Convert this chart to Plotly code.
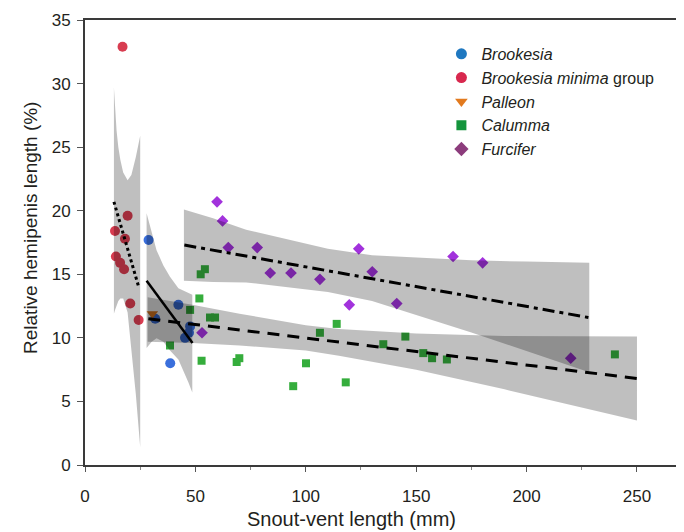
import plotly.graph_objects as go

# ---------------- data ----------------
# Brookesia
brook_x = [28.8, 42.3, 31.8, 47.6, 47.1, 45.3, 38.6]
brook_y = [17.7, 12.6, 11.5, 10.9, 10.4, 10.0, 8.0]
# Brookesia minima group
minima_x = [17.0, 19.3, 13.6, 18.1, 14.0, 15.9, 17.7, 20.5, 24.3]
minima_y = [32.9, 19.6, 18.4, 17.8, 16.4, 15.9, 15.4, 12.7, 11.4]
# Palleon
palleon_x = [30.5]
palleon_y = [11.9]
# Calumma
calumma_x = [51.8, 47.6, 56.6, 58.9, 52.4, 54.3, 38.5, 52.8, 68.7, 69.9, 94.3,
             100.1, 106.4, 114.0, 118.1, 135.1, 145.1, 153.2, 157.2, 163.9, 240.0]
calumma_y = [13.1, 12.2, 11.6, 11.6, 15.0, 15.4, 9.4, 8.2, 8.1, 8.4, 6.2,
             8.0, 10.4, 11.1, 6.5, 9.5, 10.1, 8.8, 8.4, 8.3, 8.7]
# Furcifer
furcifer_x = [59.8, 62.3, 64.9, 78.0, 83.9, 93.3, 106.4, 124.0, 119.7, 53.0,
              130.1, 141.2, 166.7, 180.1, 220.0]
furcifer_y = [20.7, 19.2, 17.1, 17.1, 15.1, 15.1, 14.6, 17.0, 12.6, 10.4,
              15.2, 12.7, 16.4, 15.9, 8.4]

# regression lines (end points)
minima_fit_x = [13.1, 24.5]
minima_fit_y = [20.7, 13.9]
brook_fit_x = [27.9, 48.7]
brook_fit_y = [14.5, 9.6]
calumma_fit_x = [28.7, 250.1]
calumma_fit_y = [11.5, 6.8]
furcifer_fit_x = [45.0, 228.0]
furcifer_fit_y = [17.3, 11.6]

# confidence bands (edges)
minima_band_x = [13.1, 13.6, 14.3, 15.1, 16.0, 17.3, 19.3, 21.0, 23.0, 25.0]
minima_band_hi = [29.7, 28.0, 26.3, 25.0, 24.0, 23.0, 22.4, 22.8, 24.2, 25.9]
minima_band_lo = [11.9, 12.2, 12.6, 12.9, 13.1, 13.1, 12.0, 9.2, 5.6, 1.4]

brook_band_x = [27.9, 30.2, 32.4, 35.5, 38.5, 42.3, 46.8, 48.6]
brook_band_hi = [19.8, 18.2, 16.9, 15.7, 14.8, 13.9, 13.5, 13.4]
brook_band_lo = [9.2, 9.7, 9.96, 9.7, 9.0, 8.3, 6.5, 5.7]

calumma_band_x = [28.4, 48.6, 70, 100, 115, 150, 190, 250]
calumma_band_hi = [13.2, 12.6, 11.9, 11.0, 10.7, 10.35, 10.15, 10.1]
calumma_band_lo = [9.7, 9.6, 9.4, 9.0, 8.6, 7.5, 5.95, 3.5]

furcifer_band_x = [44.8, 58, 73, 90, 110, 130, 150, 175, 200, 228.4]
furcifer_band_hi = [20.1, 19.4, 18.5, 17.8, 17.0, 16.5, 16.3, 16.1, 16.0, 15.9]
furcifer_band_lo = [14.5, 14.4, 14.36, 14.0, 13.6, 12.9, 11.8, 10.42, 8.96, 7.3]

legend_names = ["<i>Brookesia</i>", "<i>Brookesia minima</i> group",
                "<i>Palleon</i>", "<i>Calumma</i>", "<i>Furcifer</i>"]

x_ticks = [0, 50, 100, 150, 200, 250]
y_ticks = [0, 5, 10, 15, 20, 25, 30, 35]
x_title = "Snout-vent length (mm)"
y_title = "Relative hemipenis length (%)"

# ---------------- figure ----------------
FONT = "Liberation Sans, Arial, Helvetica, sans-serif"
TXT = "#231f20"

fig = go.Figure()

# points (drawn first, bands lie over them)
pts = [
    (minima_x, minima_y, "circle", 10, "#d83c50"),
    (brook_x, brook_y, "circle", 10, "#3a6fdc"),
    (palleon_x, palleon_y, "triangle-down", 10, "#e07b20"),
    (calumma_x, calumma_y, "square", 8, "#35ad3c"),
    (furcifer_x, furcifer_y, "diamond", 9, "#a232dc"),
]
for xs, ys, sym, sz, col in pts:
    fig.add_trace(go.Scatter(x=xs, y=ys, mode="markers", showlegend=False,
                             marker=dict(symbol=sym, size=sz, color=col,
                                         line=dict(width=0))))

# confidence bands
for bx, lo, hi in [(minima_band_x, minima_band_lo, minima_band_hi),
                   (brook_band_x, brook_band_lo, brook_band_hi),
                   (calumma_band_x, calumma_band_lo, calumma_band_hi),
                   (furcifer_band_x, furcifer_band_lo, furcifer_band_hi)]:
    fig.add_trace(go.Scatter(x=list(bx) + list(bx)[::-1],
                             y=list(hi) + list(lo)[::-1],
                             mode="lines", fill="toself",
                             fillcolor="rgba(0,0,0,0.25)",
                             line=dict(width=0), showlegend=False,
                             hoverinfo="skip"))

# fitted lines
for fx, fy, dash, w in [(minima_fit_x, minima_fit_y, "3px,3px", 3),
                        (brook_fit_x, brook_fit_y, "solid", 2.5),
                        (calumma_fit_x, calumma_fit_y, "12px,8px", 3),
                        (furcifer_fit_x, furcifer_fit_y, "12px,5px,4px,5px", 3)]:
    fig.add_trace(go.Scatter(x=fx, y=fy, mode="lines", showlegend=False,
                             line=dict(color="black", width=w, dash=dash)))

# legend entries
leg = [("circle", 11, "#1f78c0"), ("circle", 11, "#d8284e"),
       ("triangle-down", 11, "#e27a1e"), ("square", 10, "#14943c"),
       ("diamond", 11, "#8c3c7c")]
for i, (name, (sym, sz, col)) in enumerate(zip(legend_names, leg)):
    fig.add_trace(go.Scatter(x=[None], y=[None], mode="markers", name=name,
                             legendgroup=f"g{i}",
                             marker=dict(symbol=sym, size=sz, color=col)))

# the page body has an 8px margin, so the figure is sized to fit the window
fig.update_layout(
    width=676, height=524,
    margin=dict(l=77, r=0, t=12, b=67, autoexpand=False),
    plot_bgcolor="white", paper_bgcolor="white",
    font=dict(family=FONT, color=TXT),
    showlegend=True,
    legend=dict(x=0.595, y=0.962, xanchor="left", yanchor="top",
                bgcolor="rgba(0,0,0,0)", font=dict(size=16, color=TXT),
                tracegroupgap=0, traceorder="normal"),
    annotations=[
        dict(text=x_title, xref="paper", yref="paper", x=0.4457, y=-0.1213,
             xanchor="center", yanchor="middle", showarrow=False,
             font=dict(size=20, color=TXT)),
        dict(text=y_title, xref="paper", yref="paper", x=-0.0902, y=0.5326,
             xanchor="center", yanchor="middle", showarrow=False,
             textangle=-90, font=dict(size=19, color=TXT)),
    ],
)
fig.update_xaxes(range=[0, 271.3], tickvals=x_ticks, showline=True,
                 linecolor="#3a3a3a", linewidth=2, mirror=True,
                 ticks="outside", ticklen=5, tickwidth=1, tickcolor="#555",
                 showgrid=False, zeroline=False, ticklabelstandoff=10,
                 automargin=False,
                 tickfont=dict(size=17, color=TXT),
                 minor=dict(dtick=25, tick0=0, ticks="outside", ticklen=3,
                            tickwidth=1, tickcolor="#888", showgrid=False))
fig.update_yaxes(range=[0, 35], tickvals=y_ticks, showline=True,
                 linecolor="#3a3a3a", linewidth=2,
                 ticks="outside", ticklen=6, tickwidth=1, tickcolor="#555",
                 showgrid=False, zeroline=False, ticklabelstandoff=3,
                 automargin=False,
                 tickfont=dict(size=17, color=TXT))

fig.write_html("out.html")
